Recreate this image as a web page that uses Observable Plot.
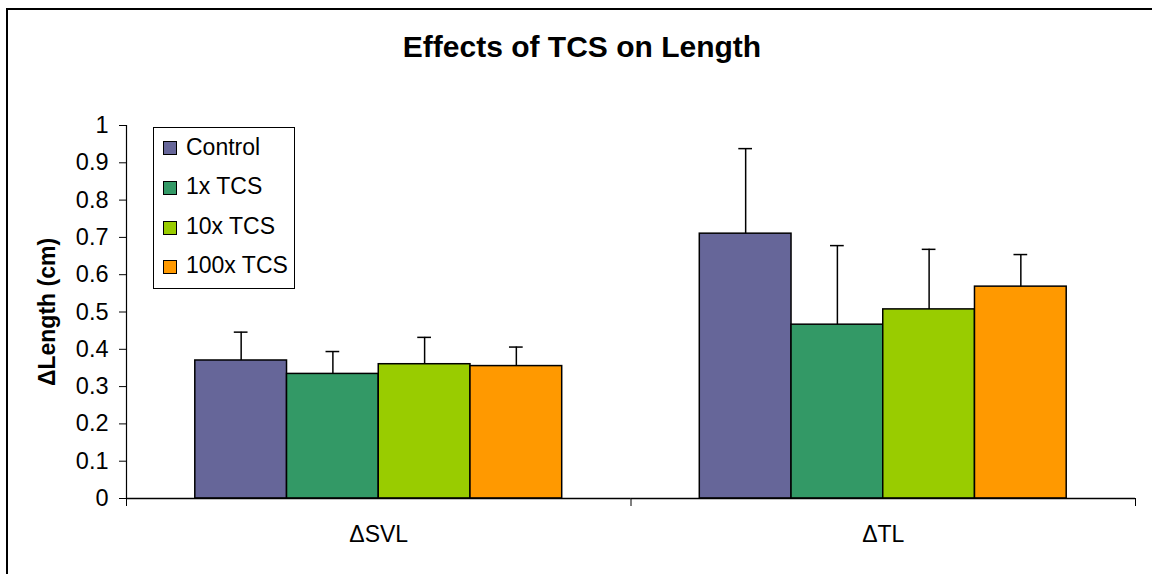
<!DOCTYPE html>
<html>
<head>
<meta charset="utf-8">
<script src="https://cdn.jsdelivr.net/npm/d3@7"></script>
<script src="https://cdn.jsdelivr.net/npm/@observablehq/plot@0.6"></script>
<style>
  html, body { margin: 0; padding: 0; background: #fff; overflow: hidden; }
  body { width: 1152px; height: 574px; position: relative; font-family: "Liberation Sans", Arial, sans-serif; }
  #border { position: absolute; left: 6px; top: 8px; width: 1300px; height: 700px; border-left: 2px solid #000; border-top: 2px solid #000; }
  #title { position: absolute; left: 0; top: 32px; width: 1164px; text-align: center; font-weight: bold; font-size: 30px; line-height: 1; color: #000; }
  #chart { position: absolute; left: 0; top: 100px; }
  #legend { position: absolute; left: 153px; top: 127px; width: 142px; height: 162px; box-sizing: border-box; border: 1px solid #000; background: #fff; }
  .sw { position: absolute; left: 9px; width: 14px; height: 14px; box-sizing: border-box; border: 1.5px solid #000; }
  .lt { position: absolute; left: 32px; font-size: 23px; line-height: 1; white-space: nowrap; color: #000; }
</style>
</head>
<body>
<div id="border"></div>
<div id="title"></div>
<div id="chart"></div>
<div id="legend"></div>
<script>
const chartTitle = "Effects of TCS on Length";
const yLabel = "ΔLength (cm)";
const categories = ["ΔSVL", "ΔTL"];
const series = ["Control", "1x TCS", "10x TCS", "100x TCS"];
const colors = ["#666699", "#339966", "#99CC00", "#FF9900"];
const svlMeans = [0.370, 0.334, 0.360, 0.355];
const svlErr = [0.076, 0.060, 0.072, 0.051];
const tlMeans = [0.710, 0.466, 0.507, 0.568];
const tlErr = [0.228, 0.212, 0.161, 0.086];
const yTicks = [0, 0.1, 0.2, 0.3, 0.4, 0.5, 0.6, 0.7, 0.8, 0.9, 1];

const means = [svlMeans, tlMeans];
const errs = [svlErr, tlErr];
const data = [];
categories.forEach((c, ci) => {
  series.forEach((s, si) => {
    data.push({cat: c, series: s, value: means[ci][si], err: errs[ci][si]});
  });
});

document.getElementById("title").textContent = chartTitle;

const FONT = "Liberation Sans, Arial, sans-serif";

const plot = Plot.plot({
  width: 1152,
  height: 474,
  marginTop: 25,
  marginBottom: 76,
  marginLeft: 126,
  marginRight: 17,
  style: {fontFamily: FONT, background: "transparent", color: "#000"},
  fx: {domain: categories, padding: 0, round: false},
  x: {domain: series, paddingInner: 0, paddingOuter: 0.75, round: false, axis: null},
  y: {domain: [0, 1]},
  color: {domain: series, range: colors},
  marks: [
    Plot.barY(data, {fx: "cat", x: "series", y: "value", fill: "series", stroke: "#000", strokeWidth: 1.5}),
    Plot.ruleX(data, {fx: "cat", x: "series", y1: "value", y2: d => d.value + d.err, stroke: "#000", strokeWidth: 1.5}),
    Plot.tickY(data, {fx: "cat", x: "series", y: d => d.value + d.err, stroke: "#000", strokeWidth: 1.5, insetLeft: 39, insetRight: 39}),
    Plot.ruleY([0], {stroke: "#000", strokeWidth: 1.5}),
    Plot.frame({anchor: "left", facetAnchor: "left", stroke: "#000", strokeWidth: 1.2}),
    Plot.frame({anchor: "left", insetTop: 373, insetBottom: -7, stroke: "#000", strokeWidth: 1}),
    Plot.frame({anchor: "right", facetAnchor: "right", insetTop: 373, insetBottom: -7, stroke: "#000", strokeWidth: 1}),
    Plot.axisY({ticks: yTicks, tickSize: 7, tickPadding: 11, fontSize: 23.5, label: null,
      tickFormat: d => String(+d.toFixed(1)), stroke: "#000", strokeWidth: 1}),
    Plot.axisFx({anchor: "bottom", tickSize: 0, tickPadding: 27, fontSize: 23, label: null}),
    Plot.text([yLabel], {facetAnchor: "left", frameAnchor: "left", text: d => d, rotate: -90, dx: -79,
      fontSize: 23, fontWeight: "bold", textAnchor: "middle", lineAnchor: "middle", fill: "#000"})
  ]
});
document.getElementById("chart").appendChild(plot);

const legend = document.getElementById("legend");
const swTops = [13, 53, 93, 132];
const txtBase = [27, 66, 106, 145];
series.forEach((s, i) => {
  const sw = document.createElement("div");
  sw.className = "sw";
  sw.style.top = swTops[i] + "px";
  sw.style.background = colors[i];
  legend.appendChild(sw);
  const t = document.createElement("div");
  t.className = "lt";
  t.style.top = (txtBase[i] - 19.5) + "px";
  t.textContent = s;
  legend.appendChild(t);
});
</script>
</body>
</html>
